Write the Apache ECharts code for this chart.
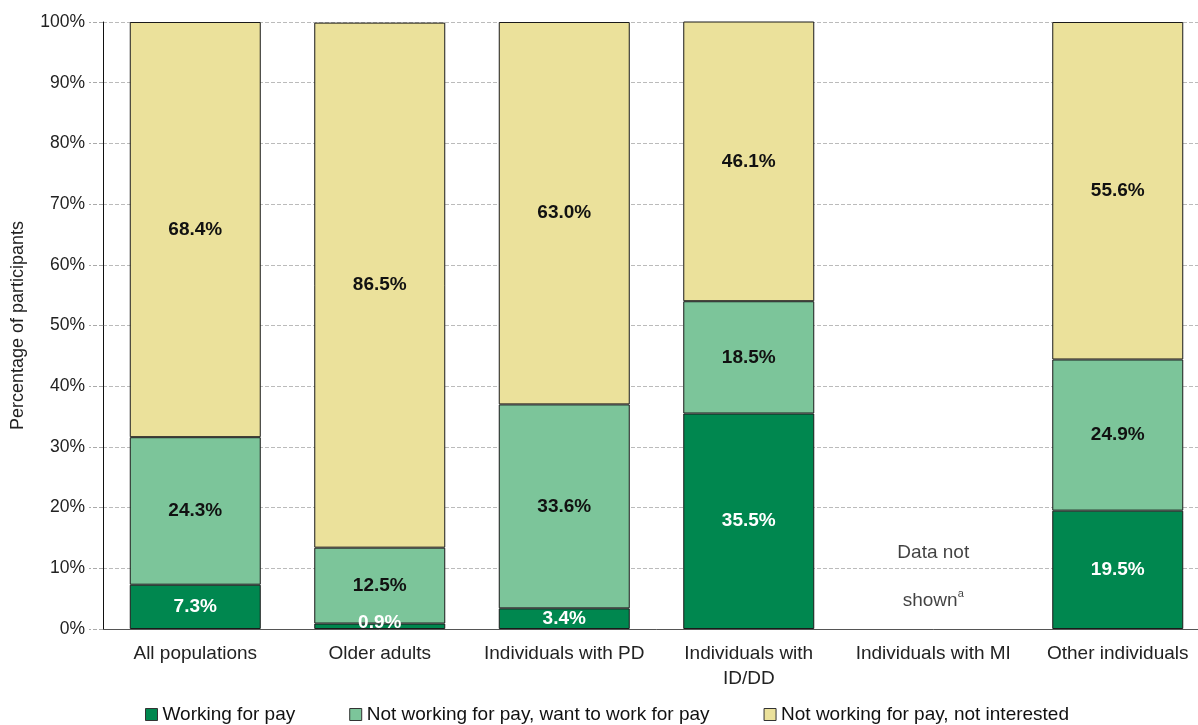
<!DOCTYPE html>
<html><head><meta charset="utf-8">
<script src="https://cdn.jsdelivr.net/npm/echarts@6/dist/echarts.min.js"></script>
<style>html,body{margin:0;padding:0;background:#fff;overflow:hidden}#c{width:1210px;height:725px}</style>
</head><body><div id="c"></div>
<script>
const categories = ['All populations','Older adults','Individuals with PD','Individuals with\nID/DD','Individuals with MI','Other individuals'];
const seriesNames = ['Working for pay','Not working for pay, want to work for pay','Not working for pay, not interested'];
const working = [7.3, 0.9, 3.4, 35.5, null, 19.5];
const wantWork = [24.3, 12.5, 33.6, 18.5, null, 24.9];
const notInterested = [68.4, 86.5, 63.0, 46.1, null, 55.6];
const yTicks = [0,10,20,30,40,50,60,70,80,90,100];
const noteCategory = 'Individuals with MI';
const noteValue = 8.6;

const colors = ['#00874f','#7cc59a','#ebe19b'];
const font = 'Liberation Sans, Arial, sans-serif';
function mk(name, data, idx, labelColor){
  return {
    name, type:'bar', stack:'s', barWidth:131,
    data: data.map(v => (v !== null && v < 2) ? {value:v, label:{offset:[0,-4]}} : v),
    itemStyle:{color:colors[idx], borderColor:'#1a1a1a', borderWidth:1},
    label:{show:true, position:'inside', formatter:p=>p.value.toFixed(1)+'%',
      color:labelColor, fontWeight:'bold', fontSize:19, fontFamily:font},
    emphasis:{disabled:true}
  };
}
const chart = echarts.init(document.getElementById('c'));
chart.setOption({
  animation:false,
  textStyle:{fontFamily:font},
  grid:{left:103, top:22, bottom:96, right:0, containLabel:false},
  legend:{top:700, left:140, itemWidth:12, itemHeight:12, itemGap:54,
    icon:'rect', textStyle:{fontSize:19, color:'#111', fontFamily:font},
    itemStyle:{borderColor:'#333', borderWidth:1},
    data:seriesNames},
  xAxis:{type:'category', data:categories,
    axisLine:{lineStyle:{color:'#555', width:1}},
    axisTick:{alignWithLabel:true, length:6, lineStyle:{color:'#555'}},
    axisLabel:{fontSize:19, color:'#222', margin:12, lineHeight:25, interval:0}},
  yAxis:{type:'value', min:0, max:100, interval:10,
    name:'Percentage of participants', nameLocation:'middle', nameGap:76, nameRotate:90,
    nameTextStyle:{fontSize:18, color:'#222'},
    axisLine:{show:true, lineStyle:{color:'#111'}},
    axisTick:{show:true, length:14, lineStyle:{color:'#aaa', type:'dashed'}},
    axisLabel:{formatter:v=>yTicks.includes(v)?v+'%':'', fontSize:17.5, color:'#222', margin:18},
    splitLine:{lineStyle:{color:'#bbb', type:'dashed'}}},
  series:[
    mk(seriesNames[0], working, 0, '#fff'),
    mk(seriesNames[1], wantWork, 1, '#111'),
    mk(seriesNames[2], notInterested, 2, '#111'),
    {type:'scatter', data:[[noteCategory, noteValue]], symbolSize:0, silent:true,
      label:{show:true, position:'inside', formatter:'Data not\n\nshown{s|a}',
        fontSize:19, color:'#111', lineHeight:24, rich:{s:{fontSize:11, verticalAlign:'top', color:'#111', lineHeight:24, padding:[0,0,6,0]}}}}
  ]
});
</script></body></html>
